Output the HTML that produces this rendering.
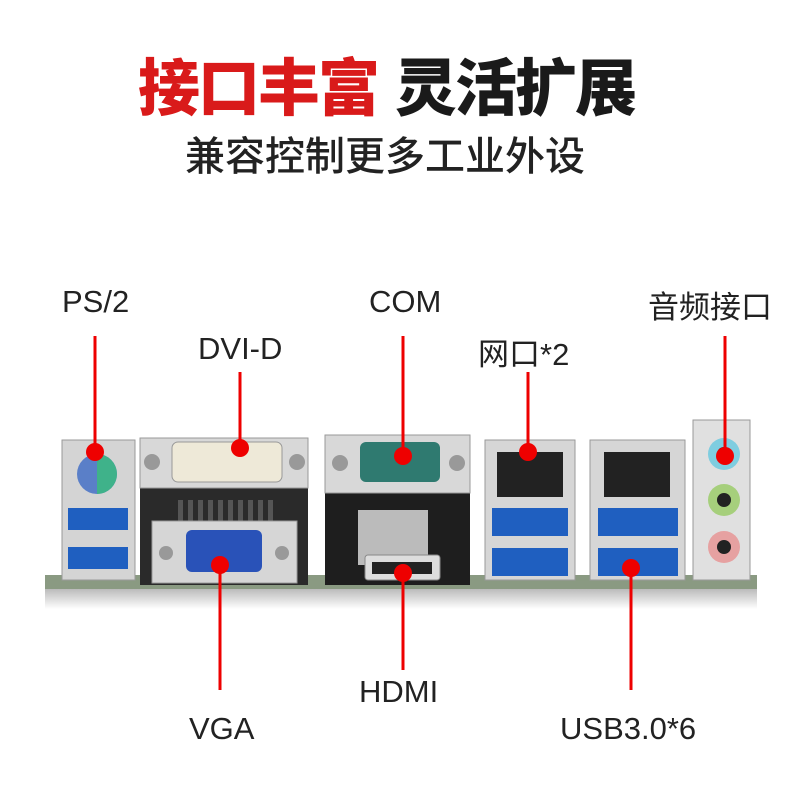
<!DOCTYPE html>
<html><head><meta charset="utf-8"><style>
body{margin:0;width:800px;height:800px;background:#fff;overflow:hidden;position:relative;font-family:"Liberation Sans","Noto Sans CJK SC",sans-serif}
.t{position:absolute;white-space:nowrap}
.l{position:absolute;font-size:31px;color:#222;white-space:nowrap}
</style></head><body>
<div class="t" style="left:138px;top:38px;font-size:62px;font-weight:900;color:#d91a1a;font-family:'Noto Sans CJK SC',sans-serif;letter-spacing:-2px">接口丰富</div>
<div class="t" style="left:395px;top:38px;font-size:62px;font-weight:900;color:#1a1a1a;font-family:'Noto Sans CJK SC',sans-serif;letter-spacing:-2px">灵活扩展</div>
<div class="t" style="left:185px;top:124px;font-size:40px;color:#222;font-family:'Noto Sans CJK SC',sans-serif;font-weight:500">兼容控制更多工业外设</div>

<div class="l" style="left:62px;top:284px">PS/2</div>
<div class="l" style="left:198px;top:331px">DVI-D</div>
<div class="l" style="left:369px;top:284px">COM</div>
<div class="l" style="left:478px;top:329px">网口*2</div>
<div class="l" style="left:648px;top:282px">音频接口</div>
<div class="l" style="left:189px;top:711px">VGA</div>
<div class="l" style="left:359px;top:674px">HDMI</div>
<div class="l" style="left:560px;top:711px">USB3.0*6</div>

<svg width="800" height="800" style="position:absolute;left:0;top:0">
<defs><linearGradient id="sh" x1="0" y1="0" x2="0" y2="1"><stop offset="0" stop-color="#bbb"/><stop offset="1" stop-color="#fff"/></linearGradient></defs>
<rect x="45" y="575" width="712" height="14" fill="#8a9a82"/>
<rect x="45" y="589" width="712" height="20" fill="url(#sh)"/>
<rect x="62" y="440" width="73" height="140" fill="#d4d4d4" stroke="#999"/>
<circle cx="97" cy="474" r="20" fill="#5a7fc8"/><path d="M97 454 A20 20 0 0 1 97 494Z" fill="#3fb28a"/>
<rect x="68" y="508" width="60" height="22" fill="#1f5fc0"/><rect x="68" y="547" width="60" height="22" fill="#1f5fc0"/>
<rect x="140" y="440" width="168" height="145" fill="#2a2a2a"/>
<rect x="140" y="438" width="168" height="50" fill="#d8d8d8" stroke="#999"/>
<rect x="172" y="442" width="110" height="40" rx="6" fill="#eee9d8" stroke="#999"/>
<circle cx="152" cy="462" r="8" fill="#999"/><circle cx="297" cy="462" r="8" fill="#999"/>
<g fill="#555"><rect x="178" y="500" width="5" height="25"/><rect x="188" y="500" width="5" height="25"/><rect x="198" y="500" width="5" height="25"/><rect x="208" y="500" width="5" height="25"/><rect x="218" y="500" width="5" height="25"/><rect x="228" y="500" width="5" height="25"/><rect x="238" y="500" width="5" height="25"/><rect x="248" y="500" width="5" height="25"/><rect x="258" y="500" width="5" height="25"/><rect x="268" y="500" width="5" height="25"/></g>
<rect x="152" y="521" width="145" height="62" fill="#d6d6d6" stroke="#999"/>
<rect x="186" y="530" width="76" height="42" rx="6" fill="#2952b8"/>
<circle cx="166" cy="553" r="7" fill="#999"/><circle cx="282" cy="553" r="7" fill="#999"/>
<rect x="325" y="480" width="145" height="105" fill="#1e1e1e"/>
<rect x="358" y="510" width="70" height="55" fill="#bbb"/>
<rect x="325" y="435" width="145" height="58" fill="#d8d8d8" stroke="#999"/>
<rect x="360" y="442" width="80" height="40" rx="6" fill="#2f7a70"/>
<circle cx="340" cy="463" r="8" fill="#999"/><circle cx="457" cy="463" r="8" fill="#999"/>
<rect x="365" y="555" width="75" height="25" rx="3" fill="#ddd" stroke="#888"/><rect x="372" y="562" width="60" height="12" fill="#222"/>
<rect x="485" y="440" width="90" height="140" fill="#d6d6d6" stroke="#999"/>
<rect x="497" y="452" width="66" height="45" fill="#222"/>
<rect x="492" y="508" width="76" height="28" fill="#1f5fc0"/><rect x="492" y="548" width="76" height="28" fill="#1f5fc0"/>
<rect x="590" y="440" width="95" height="140" fill="#d6d6d6" stroke="#999"/>
<rect x="604" y="452" width="66" height="45" fill="#222"/>
<rect x="598" y="508" width="80" height="28" fill="#1f5fc0"/><rect x="598" y="548" width="80" height="28" fill="#1f5fc0"/>
<rect x="693" y="420" width="57" height="160" fill="#e0e0e0" stroke="#999"/>
<circle cx="724" cy="454" r="16" fill="#7fcde0"/><circle cx="724" cy="454" r="7" fill="#222"/>
<circle cx="724" cy="500" r="16" fill="#a6cf7c"/><circle cx="724" cy="500" r="7" fill="#222"/>
<circle cx="724" cy="547" r="16" fill="#e6a1a1"/><circle cx="724" cy="547" r="7" fill="#222"/>
<g stroke="#e00" stroke-width="3">
<line x1="95" y1="336" x2="95" y2="452"/><line x1="240" y1="372" x2="240" y2="448"/>
<line x1="403" y1="336" x2="403" y2="456"/><line x1="528" y1="372" x2="528" y2="452"/>
<line x1="725" y1="336" x2="725" y2="456"/><line x1="220" y1="565" x2="220" y2="690"/>
<line x1="403" y1="573" x2="403" y2="670"/><line x1="631" y1="568" x2="631" y2="690"/>
</g>
<g fill="#e00">
<circle cx="95" cy="452" r="9"/><circle cx="240" cy="448" r="9"/><circle cx="403" cy="456" r="9"/><circle cx="528" cy="452" r="9"/><circle cx="725" cy="456" r="9"/><circle cx="220" cy="565" r="9"/><circle cx="403" cy="573" r="9"/><circle cx="631" cy="568" r="9"/>
</g>
</svg>
</body></html>
